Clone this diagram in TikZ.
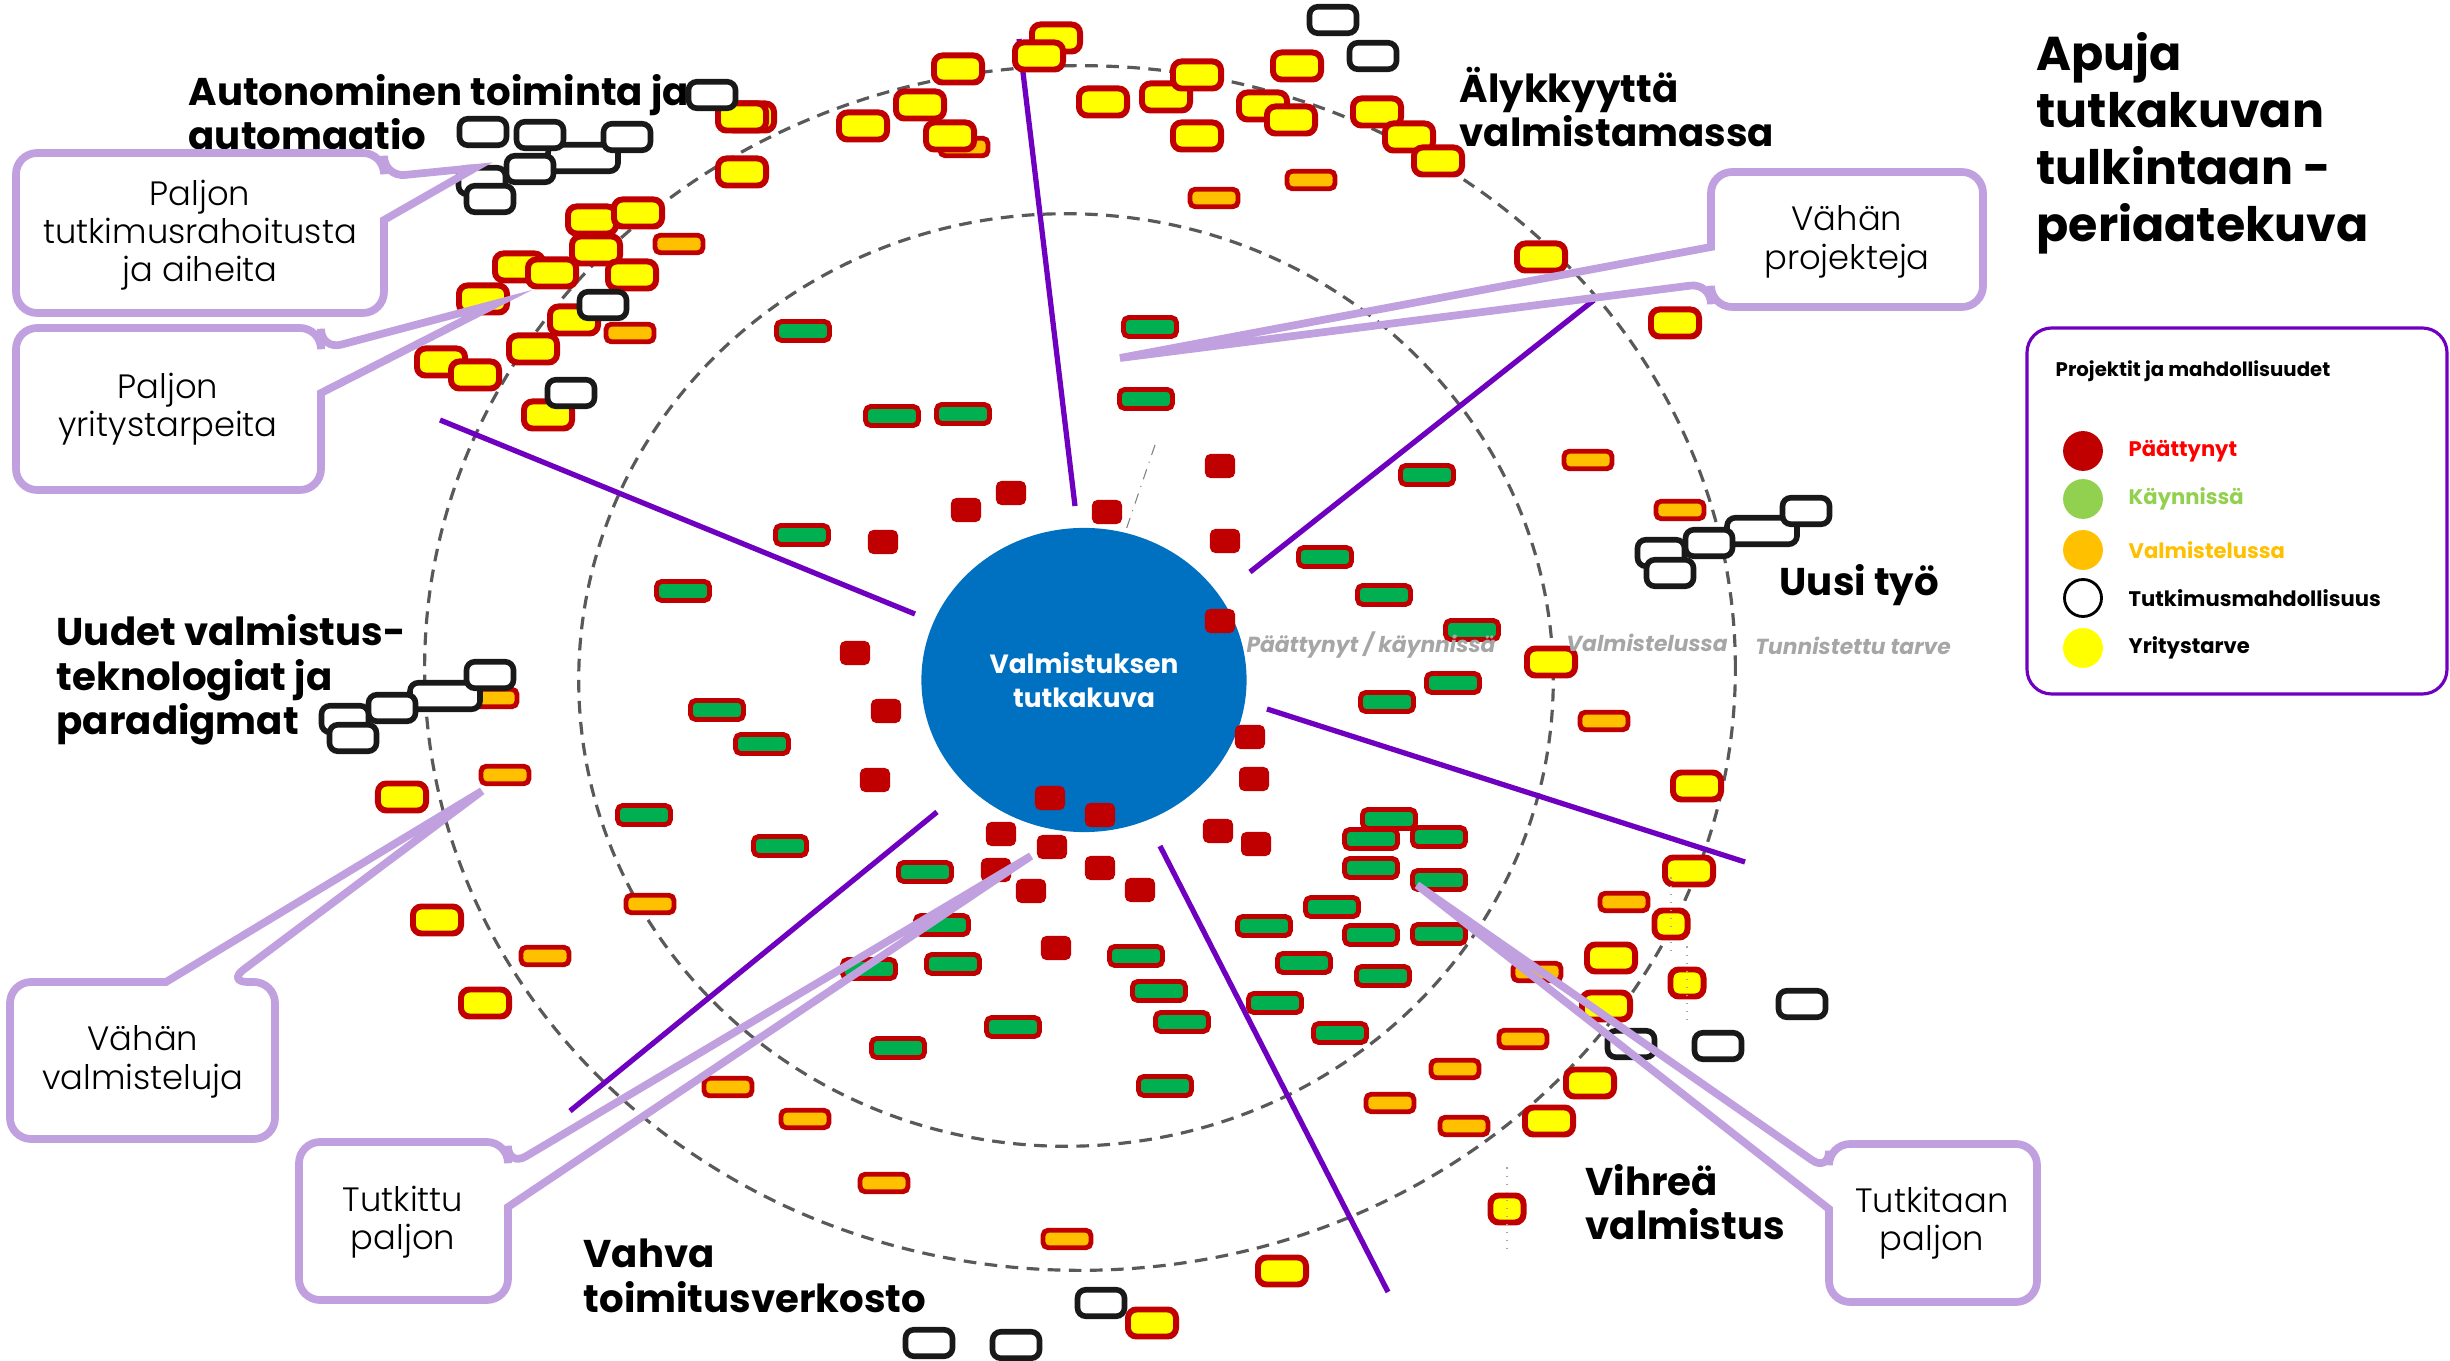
\documentclass[tikz,border=0pt]{standalone}
\usepackage{fontspec}
\setmainfont{Poppins}
\IfFontExistsTF{Poppins Light}{\newfontfamily\thinfont{Poppins Light}}{%
  \IfFontExistsTF{Poppins-Light.ttf}{\newfontfamily\thinfont{Poppins-Light.ttf}}{%
    \IfFontExistsTF{Poppins-Light.otf}{\newfontfamily\thinfont{Poppins-Light.otf}}{\newfontfamily\thinfont{Poppins}}}}
\usepackage{tikz}
\usetikzlibrary{positioning, shapes}
\definecolor{tummapuna}{RGB}{192, 0, 0}
\definecolor{kirkas}{RGB}{255, 0, 0}
\definecolor{vihrea}{RGB}{0, 176, 80}
\definecolor{lvihrea}{RGB}{146, 208, 80}
\definecolor{oranssi}{RGB}{255, 192, 0}
\definecolor{keltainen}{RGB}{255, 255, 0}
\definecolor{violetti}{RGB}{112, 0, 192}
\definecolor{laventeli}{RGB}{192, 160, 222}
\definecolor{sininen}{RGB}{0, 112, 192}
\definecolor{harmaa}{RGB}{89, 89, 89}
\definecolor{vaalea}{RGB}{166, 166, 166}
\tikzset{
    ended/.style={fill=tummapuna, rounded corners=1.5pt, minimum width=0.3cm, minimum height=0.24cm, inner sep=0pt},
    running/.style={fill=vihrea, draw=tummapuna, line width=1.4pt, rounded corners=1.5pt, minimum width=0.53cm, minimum height=0.19cm, inner sep=0pt},
    prep/.style={fill=oranssi, draw=tummapuna, line width=1.4pt, rounded corners=1.5pt, minimum width=0.48cm, minimum height=0.175cm, inner sep=0pt},
    need/.style={fill=keltainen, draw=tummapuna, line width=1.7pt, rounded corners=2.4pt, minimum width=0.48cm, minimum height=0.27cm, inner sep=0pt},
    needN/.style={need, minimum width=0.33cm, minimum height=0.27cm},
    chance/.style={fill=white, draw=black!90, line width=1.6pt, rounded corners=2.4pt, minimum width=0.47cm, minimum height=0.265cm, inner sep=0pt},
    chanceW/.style={chance, minimum width=0.7cm},
    ring/.style={draw=harmaa, line width=0.9pt, dash pattern=on 3.6pt off 2.4pt},
    spoke/.style={violetti, line width=1.5pt},
    bubble/.style={draw=laventeli, line width=2.2pt},
    note/.style={align=center, inner sep=0pt, font=\thinfont\fontsize{9.6}{10.9}\selectfont},
    theme/.style={anchor=west, align=left, inner sep=0pt, font=\bfseries\fontsize{11}{12.7}\selectfont},
    zone/.style={text=vaalea, inner sep=0pt, font=\bfseries\itshape\fontsize{6.2}{7}\selectfont},
    dot/.style={circle, line width=0.8pt, minimum size=0.37cm, inner sep=0pt},
    thread/.style={draw=gray!70, line width=0.3pt, dotted},
}

\begin{document}
\begin{tikzpicture}[x=0.01cm, y=-0.01cm]
    \useasboundingbox (0,0) rectangle (2450,1361);
    \fill[white] (0,0) rectangle (2450,1361);

    \draw[ring] (1080,668) ellipse [x radius=6.55cm, y radius=6.02cm];
    \draw[ring] (1066,680) ellipse [x radius=4.87cm, y radius=4.66cm];

    \draw[spoke] (1019,39) -- (1075,506);
    \draw[spoke] (1250,572) -- (1594,300);
    \draw[spoke] (1267,709) -- (1745,862);
    \draw[spoke] (1160,846) -- (1388,1292);
    \draw[spoke] (937,812) -- (570,1111);
    \draw[spoke] (915,614) -- (440,420);

    \draw[gray, line width=0.3pt, dash dot] (1155,445) -- (1126,530);

    \node[ellipse, fill=sininen, minimum width=3.25cm, minimum height=3.04cm, inner sep=0pt, text=white, align=center,
        font=\bfseries\fontsize{7.5}{9.5}\selectfont] (core) at (1084,680) {Valmistuksen\\tutkakuva};

    \foreach \x/\y [count=\i] in {966/510, 1011/493, 1107/512, 1220/466, 1225/541, 1220/621, 883/542, 855/653, 886/711,
        875/780, 1250/737, 1254/779, 1050/798, 1100/815, 1001/834, 1052/847, 1218/831, 1256/844, 996/870, 1100/868,
        1031/891, 1140/890, 1056/948}
        \node[ended] (e\i) at (\x,\y) {};

    \foreach \x/\y [count=\i] in {803/331, 892/416, 963/414, 1150/327, 1146/399, 802/535, 683/591, 1325/557, 1384/595,
        1427/475, 1472/630, 1453/683, 1387/702, 717/710, 762/744, 644/815, 780/846, 925/872, 942/925, 869/969, 953/964,
        898/1048, 1013/1027, 1136/956, 1159/991, 1182/1022, 1165/1086, 1264/926, 1275/1003, 1304/963, 1332/907,
        1340/1033, 1371/935, 1383/976, 1439/934, 1389/819, 1371/839, 1439/837, 1371/868, 1439/880}
        \node[running] (k\i) at (\x,\y) {};

    \foreach \x/\y [count=\i] in {679/244, 630/333, 964/147, 1214/198, 1311/180, 493/698, 505/775, 650/904, 545/956,
        728/1087, 805/1119, 884/1183, 1067/1239, 1588/460, 1680/510, 1604/721, 1624/902, 1537/972, 1523/1039,
        1455/1069, 1390/1103, 1464/1126}
        \node[prep] (v\i) at (\x,\y) {};

    \foreach \x/\y [count=\i] in {1056/38, 1039/56, 958/69, 920/105, 863/126, 950/136, 1103/102, 1166/97, 1197/75,
        1197/136, 1263/106, 1291/120, 1297/66, 1377/112, 1409/137, 1438/161, 1541/257, 1675/323, 750/117, 742/117,
        742/172, 592/220, 638/213, 596/250, 519/267, 552/273, 632/275, 483/299, 574/320, 533/349, 441/362, 475/375,
        548/415, 402/797, 437/920, 485/1003, 1551/662, 1697/786, 1689/871, 1611/958, 1606/1006, 1590/1083,
        1549/1121, 1282/1271, 1152/1323}
        \node[need] (y\i) at (\x,\y) {};

    \node[needN] (nn1) at (1671,924) {};
    \node[needN] (nn2) at (1687,983) {};
    \node[needN] (nn3) at (1507,1209) {};
    \draw[thread] ([yshift=0.3cm]nn1.north) -- ([yshift=-0.15cm]nn1.south);
    \draw[thread] ([yshift=0.2cm]nn2.north) -- ([yshift=-0.25cm]nn2.south);
    \draw[thread] ([yshift=0.25cm]nn3.north) -- ([yshift=-0.25cm]nn3.south);

    \foreach \x/\y [count=\i] in {583/158, 445/696, 1762/531}
        \node[chanceW] (w\i) at (\x,\y) {};

    \foreach \x/\y [count=\i] in {1333/20, 1373/56, 712/95, 483/132, 540/135, 627/137, 530/169, 482/181, 490/199,
        603/305, 571/393, 490/675, 392/708, 345/719, 353/738, 1806/511, 1709/543, 1661/553, 1670/573, 1802/1004,
        1631/1044, 1718/1046, 1101/1303, 929/1343, 1016/1345}
        \node[chance] (t\i) at (\x,\y) {};

    \node[zone] (z1) at (1371,645) {Päättynyt / käynnissä};
    \node[zone] (z2) at (1647,643) {Valmistelussa};
    \node[zone] (z3) at (1853,646) {Tunnistettu tarve};

    \node[theme] (th1) at (188,112) {Autonominen toiminta ja\\automaatio};
    \node[theme] (th2) at (1459,107) {Älykkyyttä\\valmistamassa};
    \node[theme, font=\bfseries\fontsize{13.5}{16.2}\selectfont] (th0) at (2036,143) {Apuja\\tutkakuvan\\tulkintaan -\\periaatekuva};
    \node[theme] (th3) at (56,680) {Uudet valmistus-\\teknologiat ja\\paradigmat};
    \node[theme] (th4) at (1779,585) {Uusi työ};
    \node[theme] (th5) at (583,1276) {Vahva\\toimitusverkosto};
    \node[theme] (th6) at (1585,1202) {Vihreä\\valmistus};

    \draw[violetti, line width=0.9pt, rounded corners=7pt] (2027,328) rectangle (2447,694);
    \node[anchor=west, inner sep=0pt, font=\bfseries\fontsize{5.6}{7}\selectfont] (leg) at (2055,371) {Projektit ja mahdollisuudet};
    \foreach \c/\b/\t/\tc/\yy [count=\i] in {tummapuna/tummapuna/Päättynyt/kirkas/451, lvihrea/lvihrea/Käynnissä/lvihrea/499,
        oranssi/oranssi/Valmistelussa/oranssi/550, white/black/Tutkimusmahdollisuus/black/598, keltainen/keltainen/Yritystarve/black/648} {
        \node[dot, fill=\c, draw=\b] (d\i) at (2083,\yy) {};
        \node[anchor=west, inner sep=0pt, text=\tc, font=\bfseries\fontsize{6}{7}\selectfont] (l\i) at (2128,\yy) {\t};
    }

    \coordinate (p1) at (475,168);
    \coordinate (p2) at (498,303);
    \coordinate (p3) at (1120,358);
    \coordinate (p4) at (482,791);
    \coordinate (p5) at (1031,856);
    \coordinate (p6) at (1417,885);

    \draw[bubble] (p1) -- (384,220) [rounded corners=6pt] -- (384,313) -- (16,313) -- (16,153) -- (384,153) -- (384,177) [sharp corners] -- cycle;
    \draw[bubble] (p2) -- (321,393) [rounded corners=6pt] -- (321,490) -- (16,490) -- (16,328) -- (321,328) -- (321,350) [sharp corners] -- cycle;
    \draw[bubble] (p3) -- (1711,247) [rounded corners=6pt] -- (1711,172) -- (1983,172) -- (1983,307) -- (1711,307) -- (1711,283) [sharp corners] -- cycle;
    \draw[bubble] (p4) -- (166,982) [rounded corners=6pt] -- (10,982) -- (10,1139) -- (275,1139) -- (275,982) -- (227,982) [sharp corners] -- cycle;
    \draw[bubble] (p5) -- (508,1207) [rounded corners=6pt] -- (508,1300) -- (299,1300) -- (299,1142) -- (508,1142) -- (508,1167) [sharp corners] -- cycle;
    \draw[bubble] (p6) -- (1829,1209) [rounded corners=6pt] -- (1829,1302) -- (2037,1302) -- (2037,1144) -- (1829,1144) -- (1829,1172) [sharp corners] -- cycle;

    \node[note] (n1) at (200,235) {Paljon\\tutkimusrahoitusta\\ja aiheita};
    \node[note] (n2) at (168,409) {Paljon\\yritystarpeita};
    \node[note] (n3) at (1847,242) {Vähän\\projekteja};
    \node[note] (n4) at (143,1062) {Vähän\\valmisteluja};
    \node[note] (n5) at (403,1222) {Tutkittu\\paljon};
    \node[note] (n6) at (1932,1223) {Tutkitaan\\paljon};
\end{tikzpicture}
\end{document}
